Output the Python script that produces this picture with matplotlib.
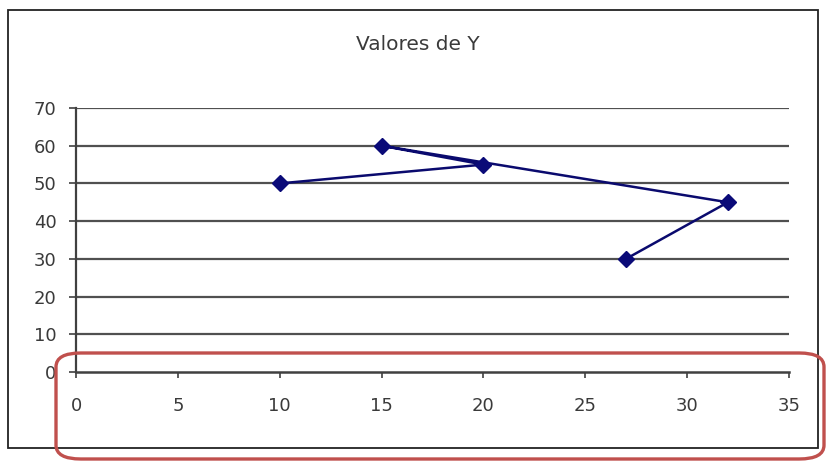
import matplotlib.pyplot as plt
from matplotlib.patches import Rectangle, FancyBboxPatch

# Datos de la serie (en el orden en que se unen los puntos)
valores_x = [10, 20, 15, 32, 27]
valores_y = [50, 55, 60, 45, 30]
ticks_x = [0, 5, 10, 15, 20, 25, 30, 35]
ticks_y = [0, 10, 20, 30, 40, 50, 60, 70]
titulo = "Valores de Y"

plt.rcParams['font.family'] = ['DejaVu Sans']

W, H = 827, 462
fig = plt.figure(figsize=(W / 100, H / 100), dpi=100)
ax = fig.add_axes([76 / W, 1 - 372 / H, (789 - 76) / W, (372 - 108) / H])

# Serie con marcadores de rombo
ax.plot(valores_x, valores_y, color='#0a0a6e', lw=1.8, marker='D', ms=8.5,
        markerfacecolor='#0a0a78', markeredgecolor='#0a0a78', zorder=3,
        clip_on=False)

ax.set_xlim(0, 35)
ax.set_ylim(0, 70)
ax.set_xticks(ticks_x)
ax.set_yticks(ticks_y)

# Líneas horizontales de la cuadrícula
for y in ticks_y[1:]:
    ax.axhline(y, color='#505050', lw=1.6, zorder=1)

for lado in ['top', 'right']:
    ax.spines[lado].set_visible(False)
ax.spines['left'].set_color('#404040')
ax.spines['left'].set_linewidth(1.6)
ax.spines['bottom'].set_color('#404040')
ax.spines['bottom'].set_linewidth(1.8)

ax.tick_params(axis='y', direction='out', length=5, width=1.2, color='#404040',
               pad=9, labelsize=13, labelcolor='#3a3a3a')
ax.tick_params(axis='x', direction='out', length=4, width=1.2, color='#404040',
               pad=14, labelsize=13, labelcolor='#3a3a3a')

fig.text(418 / W, 1 - 45 / H, titulo, ha='center', va='center',
         fontsize=14.5, color='#3a3a3a')

# Marco exterior del gráfico
fig.patches.append(Rectangle((8 / W, 1 - 448 / H), (818 - 8) / W, (448 - 10) / H,
                             transform=fig.transFigure, fill=False,
                             edgecolor='#222222', lw=1.3, zorder=0))

# Recuadro rojo resaltando el eje X
fig.patches.append(FancyBboxPatch((56 / W, 1 - 459 / H), (824 - 56) / W, (459 - 353) / H,
                                  boxstyle='round,pad=0,rounding_size=0.03',
                                  transform=fig.transFigure, fill=False,
                                  edgecolor='#c0504d', lw=2.4, zorder=10))

fig.savefig('out.png', dpi=100)
